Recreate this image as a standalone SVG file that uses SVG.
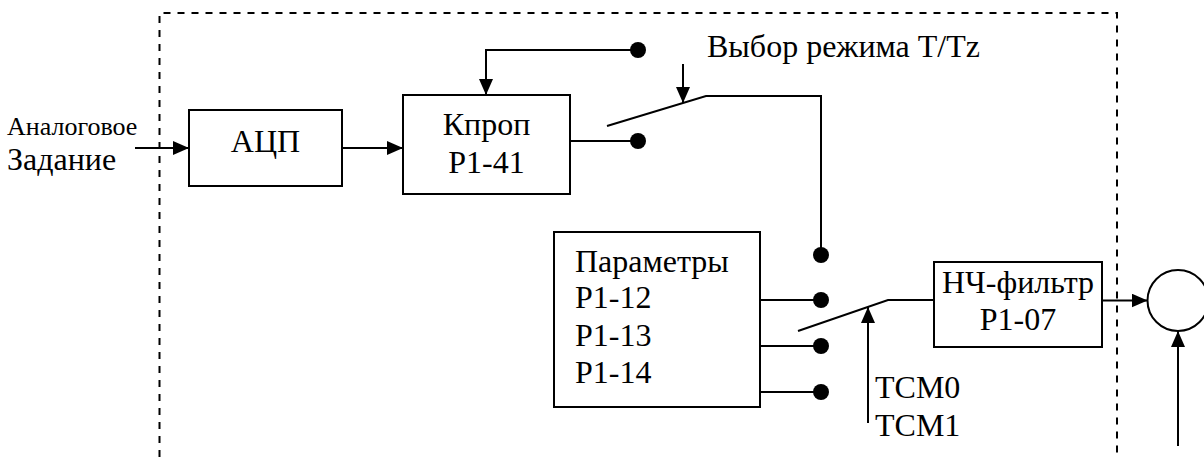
<svg xmlns="http://www.w3.org/2000/svg" width="1204" height="457" viewBox="0 0 1204 457">
<style>
.box{fill:#fff;stroke:#000;stroke-width:2}
.ln{fill:none;stroke:#000;stroke-width:2}
.arr{fill:none;stroke:#000;stroke-width:2;marker-end:url(#ah)}
.dash{fill:none;stroke:#000;stroke-width:2;stroke-dasharray:7 7}
.dot{fill:#000}
.t{font-family:'Liberation Serif',serif;font-size:32px;fill:#000}
.s{font-family:'Liberation Serif',serif;font-size:26px;fill:#000}
.c{text-anchor:middle}
</style>
<defs>
<marker id="ah" markerUnits="userSpaceOnUse" markerWidth="16" markerHeight="14" refX="16" refY="7" orient="auto">
<path d="M0,0 L16,7 L0,14 Z" fill="#000"/>
</marker>
</defs>
<path class="dash" d="M159.5,457 V13 H1117 V457"/>
<g id="input-label">
<text class="s" x="7" y="135">Аналоговое</text>
<text class="t" x="7" y="170">Задание</text>
</g>
<g id="adc">
<rect class="box" x="189" y="110" width="153" height="76"/>
<text class="t c" x="265.5" y="152">АЦП</text>
</g>
<g id="kprop">
<rect class="box" x="403" y="95" width="167" height="99"/>
<text class="t c" x="486.5" y="135">Кпроп</text>
<text class="t c" x="486.5" y="173">P1-41</text>
</g>
<g id="params">
<rect class="box" x="554" y="232" width="206" height="175"/>
<text class="t" x="575" y="272">Параметры</text>
<text class="t" x="575" y="308">P1-12</text>
<text class="t" x="575" y="346">P1-13</text>
<text class="t" x="575" y="383">P1-14</text>
</g>
<g id="lpf">
<rect class="box" x="934" y="262" width="168" height="85"/>
<text class="t c" x="1018" y="293">НЧ-фильтр</text>
<text class="t c" x="1018" y="330">P1-07</text>
</g>
<g id="sum">
<circle class="ln" cx="1178" cy="300.5" r="30.5"/>
</g>
<g id="mode-label">
<text class="t" x="707" y="57">Выбор режима T/Tz</text>
</g>
<g id="tcm-label">
<text class="t" x="875" y="398">TCM0</text>
<text class="t" x="875" y="436">TCM1</text>
</g>
<g id="contacts">
<circle class="dot" cx="638" cy="50" r="8"/>
<circle class="dot" cx="638" cy="141" r="8"/>
<circle class="dot" cx="821" cy="255" r="8"/>
<circle class="dot" cx="821" cy="300" r="8"/>
<circle class="dot" cx="821" cy="346" r="8"/>
<circle class="dot" cx="821" cy="392" r="8"/>
</g>
<g id="connectors">
<path class="arr" d="M135,148 H189"/>
<path class="arr" d="M342,148 H403"/>
<path class="arr" d="M638,50 H486 V95"/>
<path class="ln" d="M570,141 H638"/>
<path class="ln" d="M607,126 L706,96 H821 V255"/>
<path class="arr" d="M683,64 V103"/>
<path class="ln" d="M760,300 H821"/>
<path class="ln" d="M760,346 H821"/>
<path class="ln" d="M760,392 H821"/>
<path class="ln" d="M798,331 L888,300 H934"/>
<path class="arr" d="M868,423 V307"/>
<path class="arr" d="M1102,300.5 H1147.5"/>
<path class="arr" d="M1178,446 V331"/>
</g>
</svg>
